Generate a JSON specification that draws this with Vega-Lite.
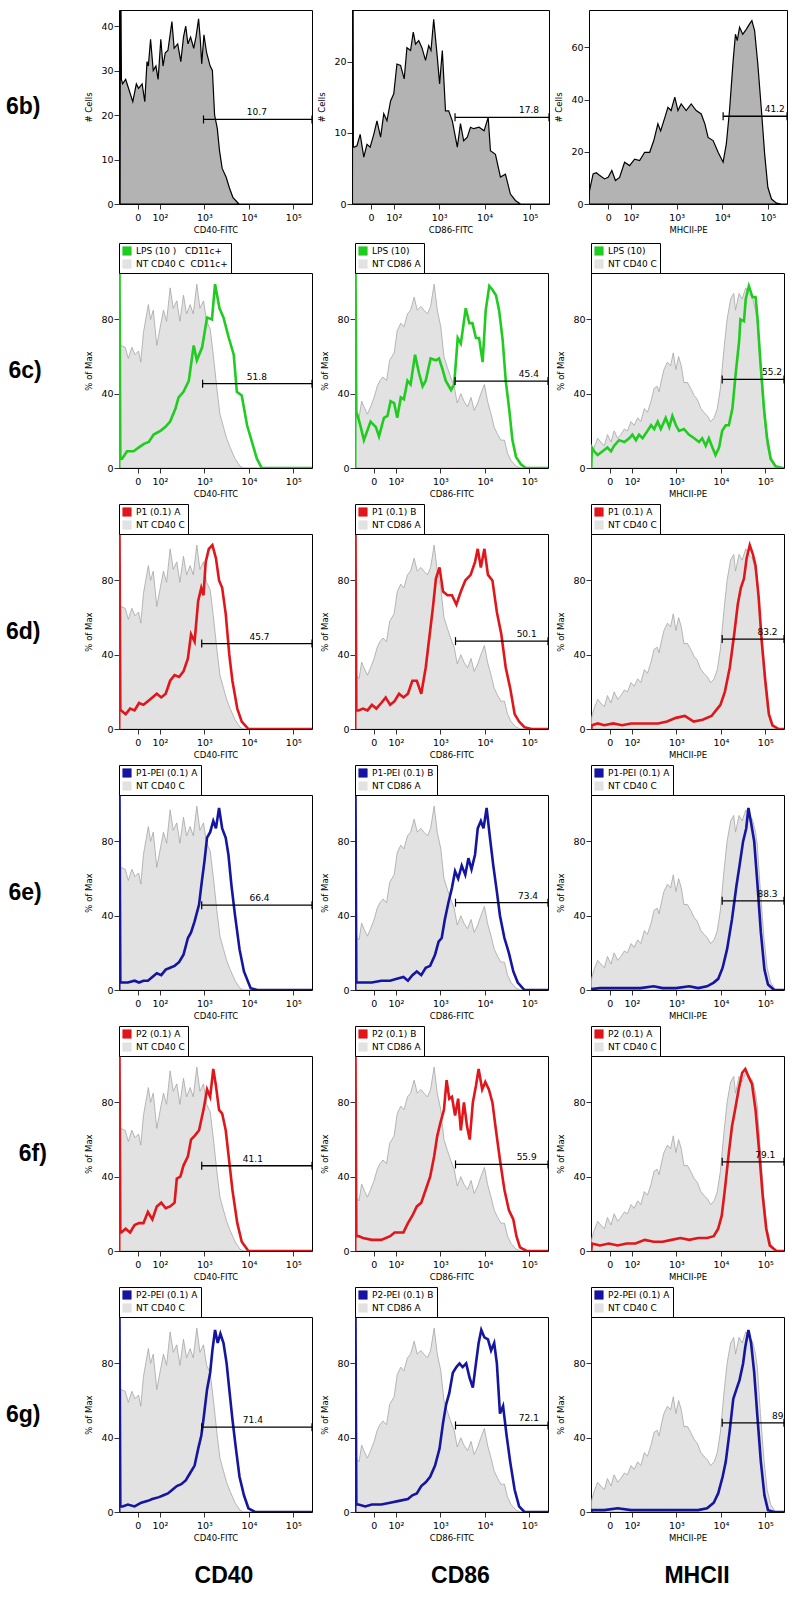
{
"$schema":"https://vega.github.io/schema/vega-lite/v6.json",
"padding":{"left":5,"top":9,"right":2,"bottom":0},
"background":"white",
"config":{
 "font":"DejaVu Sans",
 "view":{"stroke":"black","strokeWidth":1},
 "axis":{"domain":false,"grid":false,"tickColor":"black","tickWidth":0.8,"tickSize":5,"labelFont":"DejaVu Sans","labelFontSize":9.5,"labelColor":"black","labelPadding":3,"labelFlush":false,"labelOverlap":false,"titleFont":"DejaVu Sans","titleFontSize":8.5,"titleFontWeight":"normal","titleColor":"black","titlePadding":4},
 "axisY":{"titlePadding":7,"labelPadding":1,"labelOverlap":false},
 "legend":{"orient":"top","direction":"vertical","offset":0,"padding":3,"strokeColor":"black","fillColor":"white","symbolSize":72,"symbolStrokeColor":"black","symbolStrokeWidth":0.6,"symbolOpacity":1,"labelFont":"DejaVu Sans","labelFontSize":9,"labelColor":"black","rowPadding":1,"labelLimit":300,"symbolType":"square"},
 "point":{"shape":"M0,-1L0,1","size":64,"filled":false,"color":"black","strokeWidth":1.2,"opacity":1},
 "rule":{"color":"black","strokeWidth":1.3},
 "text":{"fontSize":9,"font":"DejaVu Sans","dy":-7,"color":"black"}
},
"datasets":{
"g1":[{"u":1.09,"y":66},{"u":1.12,"y":66},{"u":1.22,"y":65},{"u":1.29,"y":59},{"u":1.37,"y":65},{"u":1.44,"y":61},{"u":1.52,"y":63},{"u":1.57,"y":57},{"u":1.63,"y":73},{"u":1.74,"y":88},{"u":1.79,"y":80},{"u":1.85,"y":85},{"u":1.93,"y":66},{"u":2.0,"y":75},{"u":2.08,"y":85},{"u":2.15,"y":79},{"u":2.23,"y":97},{"u":2.3,"y":86},{"u":2.38,"y":90},{"u":2.45,"y":79},{"u":2.53,"y":93},{"u":2.6,"y":83},{"u":2.68,"y":88},{"u":2.75,"y":83},{"u":2.83,"y":99},{"u":2.9,"y":86},{"u":2.98,"y":90},{"u":3.05,"y":79},{"u":3.13,"y":75},{"u":3.2,"y":61},{"u":3.28,"y":43},{"u":3.35,"y":29},{"u":3.43,"y":22},{"u":3.5,"y":16},{"u":3.58,"y":11},{"u":3.69,"y":5},{"u":3.8,"y":1},{"u":3.88,"y":0},{"u":5.42,"y":0}],
"g2":[{"u":1.09,"y":30},{"u":1.11,"y":29},{"u":1.17,"y":27},{"u":1.23,"y":36},{"u":1.28,"y":33},{"u":1.36,"y":29},{"u":1.43,"y":33},{"u":1.51,"y":38},{"u":1.58,"y":44},{"u":1.64,"y":47},{"u":1.71,"y":49},{"u":1.79,"y":47},{"u":1.86,"y":58},{"u":1.96,"y":62},{"u":2.03,"y":74},{"u":2.11,"y":78},{"u":2.18,"y":76},{"u":2.26,"y":83},{"u":2.33,"y":85},{"u":2.41,"y":92},{"u":2.48,"y":85},{"u":2.56,"y":87},{"u":2.63,"y":85},{"u":2.71,"y":83},{"u":2.78,"y":87},{"u":2.86,"y":99},{"u":2.93,"y":85},{"u":3.01,"y":76},{"u":3.08,"y":60},{"u":3.16,"y":54},{"u":3.23,"y":49},{"u":3.31,"y":44},{"u":3.38,"y":35},{"u":3.46,"y":40},{"u":3.53,"y":36},{"u":3.61,"y":33},{"u":3.69,"y":38},{"u":3.76,"y":31},{"u":3.84,"y":35},{"u":3.91,"y":40},{"u":3.99,"y":45},{"u":4.06,"y":36},{"u":4.14,"y":29},{"u":4.21,"y":22},{"u":4.29,"y":18},{"u":4.36,"y":15},{"u":4.44,"y":15},{"u":4.51,"y":8},{"u":4.59,"y":4},{"u":4.7,"y":1},{"u":4.81,"y":0},{"u":5.42,"y":0}],
"g3":[{"u":1.09,"y":5},{"u":1.1,"y":7},{"u":1.15,"y":11},{"u":1.23,"y":16},{"u":1.3,"y":14},{"u":1.38,"y":12},{"u":1.45,"y":18},{"u":1.53,"y":14},{"u":1.6,"y":20},{"u":1.68,"y":16},{"u":1.75,"y":18},{"u":1.83,"y":21},{"u":1.9,"y":20},{"u":1.98,"y":25},{"u":2.05,"y":23},{"u":2.13,"y":27},{"u":2.2,"y":25},{"u":2.28,"y":32},{"u":2.35,"y":30},{"u":2.43,"y":36},{"u":2.5,"y":43},{"u":2.57,"y":44},{"u":2.61,"y":41},{"u":2.67,"y":48},{"u":2.72,"y":53},{"u":2.8,"y":57},{"u":2.87,"y":55},{"u":2.93,"y":62},{"u":2.99,"y":53},{"u":3.05,"y":60},{"u":3.11,"y":55},{"u":3.17,"y":46},{"u":3.25,"y":46},{"u":3.32,"y":43},{"u":3.4,"y":39},{"u":3.47,"y":37},{"u":3.55,"y":32},{"u":3.62,"y":30},{"u":3.7,"y":28},{"u":3.77,"y":25},{"u":3.85,"y":27},{"u":3.92,"y":32},{"u":3.99,"y":43},{"u":4.07,"y":64},{"u":4.14,"y":80},{"u":4.22,"y":91},{"u":4.29,"y":94},{"u":4.33,"y":85},{"u":4.41,"y":94},{"u":4.48,"y":91},{"u":4.56,"y":97},{"u":4.63,"y":94},{"u":4.71,"y":92},{"u":4.78,"y":85},{"u":4.82,"y":78},{"u":4.89,"y":53},{"u":4.97,"y":28},{"u":5.04,"y":12},{"u":5.12,"y":4},{"u":5.23,"y":0},{"u":5.42,"y":0}],
"b1":[{"u":1.105,"y":0},{"u":1.11,"y":44},{"u":1.125,"y":44},{"u":1.135,"y":28},{"u":1.16,"y":27},{"u":1.23,"y":28},{"u":1.31,"y":25.5},{"u":1.39,"y":23},{"u":1.47,"y":27},{"u":1.52,"y":26},{"u":1.6,"y":27},{"u":1.66,"y":23},{"u":1.71,"y":32},{"u":1.74,"y":31},{"u":1.79,"y":37},{"u":1.85,"y":30},{"u":1.91,"y":31},{"u":1.96,"y":28},{"u":2.02,"y":37},{"u":2.07,"y":31},{"u":2.12,"y":34},{"u":2.18,"y":34.5},{"u":2.27,"y":41},{"u":2.32,"y":35},{"u":2.4,"y":36},{"u":2.47,"y":32},{"u":2.53,"y":37.5},{"u":2.58,"y":40},{"u":2.63,"y":36},{"u":2.69,"y":37.5},{"u":2.76,"y":35},{"u":2.81,"y":37.5},{"u":2.87,"y":41.6},{"u":2.91,"y":36.7},{"u":2.94,"y":31.5},{"u":2.99,"y":38},{"u":3.05,"y":34},{"u":3.13,"y":31},{"u":3.18,"y":30},{"u":3.23,"y":20},{"u":3.29,"y":17},{"u":3.34,"y":12},{"u":3.4,"y":8},{"u":3.49,"y":6},{"u":3.56,"y":3.7},{"u":3.64,"y":1.5},{"u":3.74,"y":0.4},{"u":3.78,"y":0},{"u":5.42,"y":0}],
"b2":[{"u":1.09,"y":0},{"u":1.095,"y":28},{"u":1.105,"y":28},{"u":1.11,"y":8},{"u":1.13,"y":8},{"u":1.19,"y":8.2},{"u":1.26,"y":9.8},{"u":1.34,"y":6.6},{"u":1.41,"y":8.4},{"u":1.48,"y":8},{"u":1.56,"y":9.8},{"u":1.63,"y":11.7},{"u":1.71,"y":9.4},{"u":1.78,"y":12.7},{"u":1.85,"y":11.7},{"u":1.93,"y":14.5},{"u":2.0,"y":15.5},{"u":2.07,"y":19.7},{"u":2.15,"y":19.5},{"u":2.23,"y":17.6},{"u":2.29,"y":22},{"u":2.37,"y":21.6},{"u":2.43,"y":24.2},{"u":2.48,"y":22.5},{"u":2.55,"y":23},{"u":2.62,"y":22},{"u":2.7,"y":20.2},{"u":2.77,"y":22.3},{"u":2.82,"y":21.6},{"u":2.88,"y":26},{"u":2.96,"y":20.6},{"u":3.01,"y":16.9},{"u":3.07,"y":21.6},{"u":3.14,"y":13.1},{"u":3.21,"y":13.1},{"u":3.29,"y":11.7},{"u":3.4,"y":8},{"u":3.47,"y":11.3},{"u":3.54,"y":8.9},{"u":3.62,"y":9.4},{"u":3.69,"y":10.8},{"u":3.76,"y":10.6},{"u":3.88,"y":10.8},{"u":3.99,"y":10.3},{"u":4.08,"y":12.2},{"u":4.13,"y":7.5},{"u":4.24,"y":7},{"u":4.35,"y":3.8},{"u":4.46,"y":4.2},{"u":4.57,"y":1.4},{"u":4.68,"y":0.5},{"u":4.79,"y":0},{"u":5.42,"y":0}],
"b3":[{"u":1.085,"y":0},{"u":1.09,"y":5},{"u":1.17,"y":11.5},{"u":1.24,"y":12},{"u":1.31,"y":11},{"u":1.42,"y":9.6},{"u":1.5,"y":10.2},{"u":1.58,"y":12.8},{"u":1.66,"y":9},{"u":1.75,"y":10.2},{"u":1.86,"y":16},{"u":1.97,"y":14.7},{"u":2.08,"y":17.2},{"u":2.19,"y":16.6},{"u":2.3,"y":19.8},{"u":2.41,"y":19.8},{"u":2.5,"y":24.3},{"u":2.59,"y":30.7},{"u":2.65,"y":28},{"u":2.74,"y":33},{"u":2.81,"y":37},{"u":2.88,"y":35.8},{"u":2.96,"y":40.9},{"u":3.03,"y":35.8},{"u":3.1,"y":38.3},{"u":3.21,"y":35.8},{"u":3.32,"y":38.3},{"u":3.43,"y":35.8},{"u":3.54,"y":34.5},{"u":3.62,"y":30.7},{"u":3.69,"y":25.5},{"u":3.8,"y":24.3},{"u":3.91,"y":19.8},{"u":4.02,"y":16},{"u":4.09,"y":23},{"u":4.16,"y":35.8},{"u":4.24,"y":55},{"u":4.29,"y":65},{"u":4.33,"y":62.6},{"u":4.38,"y":67.7},{"u":4.45,"y":65},{"u":4.53,"y":67},{"u":4.6,"y":69},{"u":4.65,"y":70.2},{"u":4.71,"y":66.4},{"u":4.78,"y":53.6},{"u":4.86,"y":35.8},{"u":4.93,"y":19.2},{"u":5.0,"y":6.4},{"u":5.08,"y":1.9},{"u":5.19,"y":0.3},{"u":5.3,"y":0},{"u":5.42,"y":0}],
"c1":[{"u":1.085,"y":0},{"u":1.09,"y":110},{"u":1.11,"y":5},{"u":1.15,"y":5},{"u":1.26,"y":9},{"u":1.41,"y":9},{"u":1.52,"y":11},{"u":1.64,"y":13},{"u":1.75,"y":14},{"u":1.86,"y":18},{"u":2.01,"y":20},{"u":2.12,"y":22},{"u":2.23,"y":25},{"u":2.35,"y":32},{"u":2.42,"y":38},{"u":2.53,"y":41},{"u":2.65,"y":47},{"u":2.76,"y":66},{"u":2.83,"y":58},{"u":2.95,"y":65},{"u":3.06,"y":81},{"u":3.17,"y":80},{"u":3.24,"y":99},{"u":3.34,"y":86},{"u":3.43,"y":81},{"u":3.55,"y":70},{"u":3.66,"y":61},{"u":3.73,"y":41},{"u":3.84,"y":39},{"u":3.96,"y":23},{"u":4.07,"y":14},{"u":4.18,"y":5},{"u":4.29,"y":0},{"u":5.42,"y":0}],
"c2":[{"u":1.085,"y":0},{"u":1.09,"y":110},{"u":1.11,"y":30},{"u":1.13,"y":29},{"u":1.21,"y":22},{"u":1.28,"y":15},{"u":1.43,"y":25},{"u":1.55,"y":22},{"u":1.62,"y":17},{"u":1.73,"y":27},{"u":1.81,"y":28},{"u":1.88,"y":36},{"u":1.96,"y":35},{"u":2.03,"y":27},{"u":2.11,"y":38},{"u":2.18,"y":37},{"u":2.26,"y":47},{"u":2.33,"y":45},{"u":2.43,"y":61},{"u":2.52,"y":51},{"u":2.6,"y":44},{"u":2.67,"y":47},{"u":2.78,"y":59},{"u":2.9,"y":58},{"u":2.97,"y":59},{"u":3.05,"y":53},{"u":3.12,"y":47},{"u":3.24,"y":42},{"u":3.31,"y":45},{"u":3.39,"y":70},{"u":3.46,"y":67},{"u":3.57,"y":86},{"u":3.65,"y":78},{"u":3.72,"y":78},{"u":3.8,"y":70},{"u":3.87,"y":70},{"u":3.95,"y":57},{"u":4.02,"y":85},{"u":4.1,"y":98},{"u":4.17,"y":96},{"u":4.25,"y":93},{"u":4.32,"y":85},{"u":4.4,"y":69},{"u":4.47,"y":47},{"u":4.55,"y":31},{"u":4.62,"y":15},{"u":4.7,"y":6},{"u":4.81,"y":2},{"u":4.92,"y":0},{"u":5.42,"y":0}],
"c3":[{"u":1.085,"y":0},{"u":1.1,"y":11},{"u":1.15,"y":9},{"u":1.23,"y":7},{"u":1.34,"y":9},{"u":1.45,"y":11},{"u":1.53,"y":9},{"u":1.6,"y":12},{"u":1.71,"y":15},{"u":1.83,"y":14},{"u":1.94,"y":16},{"u":2.01,"y":18},{"u":2.09,"y":15},{"u":2.16,"y":18},{"u":2.24,"y":16},{"u":2.35,"y":20},{"u":2.43,"y":23},{"u":2.5,"y":21},{"u":2.58,"y":25},{"u":2.65,"y":21},{"u":2.76,"y":27},{"u":2.84,"y":22},{"u":2.91,"y":28},{"u":2.99,"y":23},{"u":3.06,"y":20},{"u":3.17,"y":21},{"u":3.28,"y":18},{"u":3.4,"y":16},{"u":3.51,"y":14},{"u":3.58,"y":16},{"u":3.66,"y":12},{"u":3.73,"y":16},{"u":3.81,"y":11},{"u":3.88,"y":7},{"u":3.96,"y":11},{"u":4.03,"y":20},{"u":4.11,"y":23},{"u":4.18,"y":23},{"u":4.26,"y":32},{"u":4.33,"y":50},{"u":4.41,"y":68},{"u":4.44,"y":80},{"u":4.52,"y":79},{"u":4.56,"y":91},{"u":4.63,"y":98},{"u":4.71,"y":92},{"u":4.78,"y":92},{"u":4.82,"y":82},{"u":4.89,"y":57},{"u":4.97,"y":32},{"u":5.04,"y":16},{"u":5.12,"y":5},{"u":5.23,"y":1},{"u":5.38,"y":0},{"u":5.42,"y":0}],
"d1":[{"u":1.085,"y":0},{"u":1.09,"y":110},{"u":1.11,"y":10},{"u":1.13,"y":10},{"u":1.23,"y":8},{"u":1.33,"y":11},{"u":1.43,"y":10},{"u":1.53,"y":14},{"u":1.63,"y":13},{"u":1.73,"y":15},{"u":1.83,"y":17},{"u":1.93,"y":19},{"u":2.03,"y":17},{"u":2.13,"y":19},{"u":2.23,"y":26},{"u":2.33,"y":29},{"u":2.43,"y":28},{"u":2.53,"y":31},{"u":2.63,"y":38},{"u":2.7,"y":51},{"u":2.78,"y":47},{"u":2.86,"y":69},{"u":2.93,"y":76},{"u":2.98,"y":72},{"u":3.03,"y":90},{"u":3.1,"y":97},{"u":3.18,"y":99},{"u":3.26,"y":92},{"u":3.33,"y":80},{"u":3.4,"y":76},{"u":3.48,"y":62},{"u":3.56,"y":40},{"u":3.63,"y":26},{"u":3.74,"y":11},{"u":3.84,"y":4},{"u":3.99,"y":0},{"u":5.42,"y":0}],
"d2":[{"u":1.085,"y":0},{"u":1.09,"y":110},{"u":1.11,"y":10},{"u":1.16,"y":10},{"u":1.26,"y":11},{"u":1.36,"y":10},{"u":1.46,"y":13},{"u":1.56,"y":11},{"u":1.67,"y":14},{"u":1.77,"y":17},{"u":1.87,"y":13},{"u":1.97,"y":15},{"u":2.07,"y":19},{"u":2.17,"y":17},{"u":2.27,"y":19},{"u":2.37,"y":26},{"u":2.47,"y":26},{"u":2.57,"y":19},{"u":2.67,"y":33},{"u":2.75,"y":49},{"u":2.83,"y":65},{"u":2.9,"y":81},{"u":2.98,"y":87},{"u":3.06,"y":74},{"u":3.16,"y":72},{"u":3.26,"y":72},{"u":3.36,"y":67},{"u":3.46,"y":74},{"u":3.56,"y":80},{"u":3.68,"y":83},{"u":3.78,"y":90},{"u":3.84,"y":97},{"u":3.91,"y":87},{"u":3.99,"y":97},{"u":4.07,"y":83},{"u":4.17,"y":80},{"u":4.27,"y":63},{"u":4.37,"y":51},{"u":4.47,"y":33},{"u":4.57,"y":22},{"u":4.67,"y":8},{"u":4.77,"y":4},{"u":4.89,"y":1},{"u":5.05,"y":0},{"u":5.42,"y":0}],
"d3":[{"u":1.085,"y":0},{"u":1.1,"y":2},{"u":1.23,"y":3},{"u":1.38,"y":2},{"u":1.58,"y":3},{"u":1.78,"y":2},{"u":1.98,"y":3},{"u":2.19,"y":3},{"u":2.39,"y":3},{"u":2.59,"y":3},{"u":2.79,"y":4},{"u":2.99,"y":6},{"u":3.19,"y":7},{"u":3.39,"y":4},{"u":3.59,"y":5},{"u":3.79,"y":7},{"u":3.89,"y":10},{"u":3.99,"y":13},{"u":4.09,"y":20},{"u":4.2,"y":33},{"u":4.3,"y":51},{"u":4.38,"y":67},{"u":4.45,"y":76},{"u":4.52,"y":81},{"u":4.58,"y":92},{"u":4.65,"y":99},{"u":4.72,"y":94},{"u":4.78,"y":88},{"u":4.85,"y":71},{"u":4.92,"y":47},{"u":5.0,"y":26},{"u":5.08,"y":8},{"u":5.16,"y":2},{"u":5.3,"y":0},{"u":5.42,"y":0}],
"e1":[{"u":1.085,"y":0},{"u":1.09,"y":110},{"u":1.11,"y":4},{"u":1.16,"y":4},{"u":1.28,"y":4},{"u":1.43,"y":5},{"u":1.53,"y":4},{"u":1.63,"y":5},{"u":1.73,"y":5},{"u":1.83,"y":7},{"u":1.93,"y":9},{"u":2.03,"y":8},{"u":2.13,"y":11},{"u":2.23,"y":12},{"u":2.33,"y":13},{"u":2.43,"y":15},{"u":2.53,"y":19},{"u":2.63,"y":28},{"u":2.7,"y":31},{"u":2.78,"y":37},{"u":2.88,"y":46},{"u":2.94,"y":58},{"u":3.0,"y":69},{"u":3.06,"y":82},{"u":3.13,"y":85},{"u":3.2,"y":91},{"u":3.26,"y":87},{"u":3.33,"y":98},{"u":3.4,"y":87},{"u":3.48,"y":82},{"u":3.54,"y":73},{"u":3.61,"y":56},{"u":3.69,"y":40},{"u":3.79,"y":22},{"u":3.89,"y":10},{"u":4.04,"y":1},{"u":4.19,"y":0},{"u":5.42,"y":0}],
"e2":[{"u":1.085,"y":0},{"u":1.09,"y":110},{"u":1.11,"y":4},{"u":1.16,"y":4},{"u":1.31,"y":4},{"u":1.46,"y":4},{"u":1.67,"y":5},{"u":1.87,"y":5},{"u":2.02,"y":6},{"u":2.17,"y":7},{"u":2.27,"y":5},{"u":2.37,"y":8},{"u":2.47,"y":10},{"u":2.57,"y":8},{"u":2.67,"y":12},{"u":2.77,"y":13},{"u":2.88,"y":19},{"u":2.96,"y":26},{"u":3.03,"y":28},{"u":3.1,"y":38},{"u":3.18,"y":47},{"u":3.26,"y":55},{"u":3.33,"y":64},{"u":3.4,"y":60},{"u":3.48,"y":67},{"u":3.56,"y":62},{"u":3.63,"y":71},{"u":3.7,"y":65},{"u":3.78,"y":73},{"u":3.84,"y":87},{"u":3.91,"y":91},{"u":3.97,"y":87},{"u":4.04,"y":98},{"u":4.11,"y":83},{"u":4.19,"y":67},{"u":4.27,"y":53},{"u":4.34,"y":40},{"u":4.44,"y":28},{"u":4.54,"y":20},{"u":4.64,"y":10},{"u":4.74,"y":4},{"u":4.89,"y":0},{"u":5.42,"y":0}],
"e3":[{"u":1.085,"y":0},{"u":1.1,"y":0.5},{"u":1.28,"y":1},{"u":1.58,"y":1},{"u":1.88,"y":1},{"u":2.19,"y":1},{"u":2.49,"y":2},{"u":2.69,"y":1},{"u":2.99,"y":1},{"u":3.29,"y":2},{"u":3.49,"y":1},{"u":3.69,"y":2},{"u":3.84,"y":4},{"u":3.94,"y":6},{"u":4.04,"y":12},{"u":4.14,"y":22},{"u":4.25,"y":38},{"u":4.35,"y":56},{"u":4.42,"y":67},{"u":4.5,"y":80},{"u":4.57,"y":87},{"u":4.62,"y":98},{"u":4.68,"y":90},{"u":4.75,"y":80},{"u":4.82,"y":58},{"u":4.9,"y":31},{"u":4.98,"y":11},{"u":5.06,"y":3},{"u":5.2,"y":0},{"u":5.42,"y":0}],
"f1":[{"u":1.085,"y":0},{"u":1.09,"y":110},{"u":1.11,"y":10},{"u":1.13,"y":10},{"u":1.23,"y":12},{"u":1.33,"y":10},{"u":1.43,"y":14},{"u":1.53,"y":15},{"u":1.63,"y":15},{"u":1.73,"y":21},{"u":1.83,"y":17},{"u":1.93,"y":24},{"u":2.03,"y":26},{"u":2.13,"y":23},{"u":2.23,"y":24},{"u":2.33,"y":26},{"u":2.38,"y":39},{"u":2.46,"y":40},{"u":2.53,"y":46},{"u":2.63,"y":51},{"u":2.7,"y":60},{"u":2.78,"y":62},{"u":2.88,"y":65},{"u":2.98,"y":76},{"u":3.06,"y":87},{"u":3.13,"y":83},{"u":3.2,"y":98},{"u":3.26,"y":89},{"u":3.33,"y":76},{"u":3.4,"y":74},{"u":3.48,"y":65},{"u":3.56,"y":48},{"u":3.63,"y":33},{"u":3.74,"y":15},{"u":3.84,"y":5},{"u":3.99,"y":0},{"u":5.42,"y":0}],
"f2":[{"u":1.085,"y":0},{"u":1.09,"y":110},{"u":1.11,"y":8},{"u":1.16,"y":8},{"u":1.26,"y":7},{"u":1.46,"y":6},{"u":1.67,"y":6},{"u":1.87,"y":8},{"u":1.97,"y":10},{"u":2.17,"y":10},{"u":2.27,"y":15},{"u":2.37,"y":19},{"u":2.47,"y":24},{"u":2.57,"y":26},{"u":2.67,"y":33},{"u":2.77,"y":40},{"u":2.86,"y":51},{"u":2.93,"y":62},{"u":3.0,"y":69},{"u":3.08,"y":76},{"u":3.14,"y":92},{"u":3.2,"y":82},{"u":3.26,"y":83},{"u":3.33,"y":73},{"u":3.4,"y":82},{"u":3.46,"y":65},{"u":3.53,"y":80},{"u":3.6,"y":67},{"u":3.66,"y":60},{"u":3.73,"y":80},{"u":3.8,"y":89},{"u":3.86,"y":98},{"u":3.94,"y":87},{"u":4.01,"y":91},{"u":4.09,"y":87},{"u":4.17,"y":80},{"u":4.25,"y":65},{"u":4.34,"y":49},{"u":4.44,"y":33},{"u":4.54,"y":22},{"u":4.64,"y":17},{"u":4.71,"y":8},{"u":4.79,"y":2},{"u":4.94,"y":0},{"u":5.42,"y":0}],
"f3":[{"u":1.085,"y":0},{"u":1.1,"y":4},{"u":1.28,"y":3},{"u":1.48,"y":4},{"u":1.68,"y":3},{"u":1.88,"y":4},{"u":2.08,"y":4},{"u":2.29,"y":6},{"u":2.49,"y":5},{"u":2.69,"y":5},{"u":2.89,"y":6},{"u":3.09,"y":7},{"u":3.29,"y":6},{"u":3.49,"y":7},{"u":3.69,"y":7},{"u":3.84,"y":8},{"u":3.94,"y":12},{"u":4.02,"y":19},{"u":4.09,"y":33},{"u":4.18,"y":53},{"u":4.25,"y":67},{"u":4.32,"y":76},{"u":4.4,"y":87},{"u":4.48,"y":96},{"u":4.55,"y":98},{"u":4.62,"y":94},{"u":4.7,"y":90},{"u":4.78,"y":76},{"u":4.86,"y":54},{"u":4.94,"y":30},{"u":5.02,"y":12},{"u":5.1,"y":3},{"u":5.25,"y":0},{"u":5.42,"y":0}],
"h1":[{"u":1.085,"y":0},{"u":1.09,"y":110},{"u":1.11,"y":3},{"u":1.16,"y":3},{"u":1.28,"y":4},{"u":1.43,"y":3},{"u":1.58,"y":5},{"u":1.73,"y":6},{"u":1.83,"y":7},{"u":1.98,"y":8},{"u":2.08,"y":9},{"u":2.18,"y":10},{"u":2.28,"y":12},{"u":2.38,"y":14},{"u":2.48,"y":15},{"u":2.58,"y":17},{"u":2.68,"y":21},{"u":2.78,"y":25},{"u":2.86,"y":34},{"u":2.93,"y":41},{"u":2.98,"y":50},{"u":3.06,"y":66},{"u":3.13,"y":75},{"u":3.18,"y":87},{"u":3.24,"y":98},{"u":3.3,"y":91},{"u":3.36,"y":96},{"u":3.43,"y":91},{"u":3.5,"y":80},{"u":3.56,"y":66},{"u":3.63,"y":50},{"u":3.71,"y":34},{"u":3.79,"y":19},{"u":3.89,"y":9},{"u":3.99,"y":2},{"u":4.14,"y":0},{"u":5.42,"y":0}],
"h2":[{"u":1.085,"y":0},{"u":1.09,"y":110},{"u":1.11,"y":4},{"u":1.16,"y":4},{"u":1.31,"y":3},{"u":1.46,"y":4},{"u":1.67,"y":4},{"u":1.87,"y":5},{"u":2.07,"y":6},{"u":2.27,"y":7},{"u":2.37,"y":9},{"u":2.47,"y":10},{"u":2.57,"y":14},{"u":2.67,"y":16},{"u":2.77,"y":19},{"u":2.88,"y":25},{"u":2.98,"y":34},{"u":3.06,"y":48},{"u":3.13,"y":58},{"u":3.2,"y":64},{"u":3.28,"y":75},{"u":3.36,"y":78},{"u":3.43,"y":80},{"u":3.5,"y":78},{"u":3.58,"y":80},{"u":3.66,"y":72},{"u":3.73,"y":67},{"u":3.8,"y":80},{"u":3.86,"y":91},{"u":3.92,"y":98},{"u":3.99,"y":94},{"u":4.07,"y":93},{"u":4.14,"y":87},{"u":4.21,"y":91},{"u":4.27,"y":80},{"u":4.34,"y":53},{"u":4.41,"y":57},{"u":4.49,"y":41},{"u":4.57,"y":27},{"u":4.67,"y":12},{"u":4.77,"y":3},{"u":4.89,"y":0},{"u":5.42,"y":0}],
"h3":[{"u":1.085,"y":0},{"u":1.1,"y":1},{"u":1.38,"y":1},{"u":1.68,"y":2},{"u":1.98,"y":1},{"u":2.29,"y":1},{"u":2.59,"y":1},{"u":2.89,"y":1},{"u":3.19,"y":1},{"u":3.49,"y":1},{"u":3.69,"y":2},{"u":3.84,"y":5},{"u":3.94,"y":10},{"u":4.04,"y":19},{"u":4.11,"y":27},{"u":4.2,"y":44},{"u":4.28,"y":61},{"u":4.35,"y":66},{"u":4.42,"y":71},{"u":4.5,"y":80},{"u":4.55,"y":89},{"u":4.62,"y":98},{"u":4.68,"y":91},{"u":4.75,"y":75},{"u":4.82,"y":52},{"u":4.9,"y":27},{"u":4.98,"y":9},{"u":5.06,"y":1},{"u":5.2,"y":0},{"u":5.42,"y":0}]
},
"resolve":{"scale":{"color":"independent"},"legend":{"color":"independent"}},
"spacing":7,
"vconcat":[
{"hconcat":[
 {"width":193,"height":194,"title":{"text":"6b)","orient":"left","angle":0,"align":"right","baseline":"middle","anchor":"middle","frame":"group","offset":10,"fontSize":23,"fontWeight":"bold","font":"Liberation Sans","color":"black"},
  "layer":[
  {"data":{"name":"b1"},"mark":{"type":"area","fill":"#b3b3b3","stroke":"black","strokeWidth":1.2,"clip":true},"encoding":{"x":{"field":"u","type":"quantitative","scale":{"domain":[1.08,5.42],"nice":false,"zero":false},"axis":{"title":"CD40-FITC","labelOverlap":false,"values":[1.5,2,3,4,5],"labelExpr":"datum.value==1.5?'0':datum.value==2?'10²':datum.value==3?'10³':datum.value==4?'10⁴':'10⁵'"}},"y":{"field":"y","type":"quantitative","stack":null,"scale":{"domain":[0,43.6],"nice":false},"axis":{"title":"# Cells","labelOverlap":false,"values":[0,10,20,30,40]}}}},
  {"data":{"values":[{"a":2.98,"b":5.42,"m":4.18,"y":19,"t":"10.7"}]},"encoding":{"y":{"field":"y","type":"quantitative","axis":{"labelOverlap":false}}},"layer":[{"mark":"rule","encoding":{"x":{"field":"a","type":"quantitative"},"x2":{"field":"b"}}},{"mark":"point","encoding":{"x":{"field":"a","type":"quantitative"}}},{"mark":"point","encoding":{"x":{"field":"b","type":"quantitative"}}},{"mark":"text","encoding":{"x":{"field":"m","type":"quantitative"},"text":{"field":"t"}}}]}
 ]},
 {"width":197,"height":194,"layer":[
  {"data":{"name":"b2"},"mark":{"type":"area","fill":"#b3b3b3","stroke":"black","strokeWidth":1.2,"clip":true},"encoding":{"x":{"field":"u","type":"quantitative","scale":{"domain":[1.08,5.42],"nice":false,"zero":false},"axis":{"title":"CD86-FITC","labelOverlap":false,"values":[1.5,2,3,4,5],"labelExpr":"datum.value==1.5?'0':datum.value==2?'10²':datum.value==3?'10³':datum.value==4?'10⁴':'10⁵'"}},"y":{"field":"y","type":"quantitative","stack":null,"scale":{"domain":[0,27.3],"nice":false},"axis":{"title":"# Cells","labelOverlap":false,"values":[0,5,10,15,20,25]}}}},
  {"data":{"values":[{"a":3.35,"b":5.42,"m":4.98,"y":12.2,"t":"17.8"}]},"encoding":{"y":{"field":"y","type":"quantitative","axis":{"labelOverlap":false}}},"layer":[{"mark":"rule","encoding":{"x":{"field":"a","type":"quantitative"},"x2":{"field":"b"}}},{"mark":"point","encoding":{"x":{"field":"a","type":"quantitative"}}},{"mark":"point","encoding":{"x":{"field":"b","type":"quantitative"}}},{"mark":"text","encoding":{"x":{"field":"m","type":"quantitative"},"text":{"field":"t"}}}]}
 ]},
 {"width":198,"height":194,"layer":[
  {"data":{"name":"b3"},"mark":{"type":"area","fill":"#b3b3b3","stroke":"black","strokeWidth":1.2,"clip":true},"encoding":{"x":{"field":"u","type":"quantitative","scale":{"domain":[1.08,5.42],"nice":false,"zero":false},"axis":{"title":"MHCII-PE","labelOverlap":false,"values":[1.5,2,3,4,5],"labelExpr":"datum.value==1.5?'0':datum.value==2?'10²':datum.value==3?'10³':datum.value==4?'10⁴':'10⁵'"}},"y":{"field":"y","type":"quantitative","stack":null,"scale":{"domain":[0,74.3],"nice":false},"axis":{"title":"# Cells","labelOverlap":false,"values":[0,20,40,60]}}}},
  {"data":{"values":[{"a":4.02,"b":5.42,"m":5.15,"y":33.6,"t":"41.2"}]},"encoding":{"y":{"field":"y","type":"quantitative","axis":{"labelOverlap":false}}},"layer":[{"mark":"rule","encoding":{"x":{"field":"a","type":"quantitative"},"x2":{"field":"b"}}},{"mark":"point","encoding":{"x":{"field":"a","type":"quantitative"}}},{"mark":"point","encoding":{"x":{"field":"b","type":"quantitative"}}},{"mark":"text","encoding":{"x":{"field":"m","type":"quantitative"},"text":{"field":"t"}}}]}
 ]}
],"spacing":2,"resolve":{"scale":{"color":"independent"},"legend":{"color":"independent"}}},
{"spacing":4,"resolve":{"scale":{"color":"independent"},"legend":{"color":"independent"}},"vconcat":[
{"hconcat":[
 {"width":193,"height":195,"title":{"text":"6c)","orient":"left","angle":0,"align":"right","baseline":"middle","anchor":"middle","frame":"group","offset":10,"fontSize":23,"fontWeight":"bold","font":"Liberation Sans","color":"black"},"layer":[
  {"data":{"name":"g1"},"mark":{"type":"area","stroke":"#a6a6a6","strokeWidth":0.8,"clip":true},"encoding":{"x":{"field":"u","type":"quantitative","scale":{"domain":[1.08,5.42],"nice":false,"zero":false},"axis":{"title":"CD40-FITC","labelOverlap":false,"values":[1.5,2,3,4,5],"labelExpr":"datum.value==1.5?'0':datum.value==2?'10²':datum.value==3?'10³':datum.value==4?'10⁴':'10⁵'"}},"y":{"field":"y","type":"quantitative","stack":null,"scale":{"domain":[0,105],"nice":false},"axis":{"title":"% of Max","labelOverlap":false,"values":[0,20,40,60,80,100]}},"color":{"datum":"NT CD40 C\u00a0\u00a0CD11c+","scale":{"domain":["LPS (10 )\u00a0\u00a0\u00a0CD11c+","NT CD40 C\u00a0\u00a0CD11c+"],"range":["#1fcc1f","#e2e2e2"]},"legend":{"title":null,"symbolType":"square"}}}},
  {"data":{"name":"c1"},"mark":{"type":"line","strokeWidth":2.6,"clip":true},"encoding":{"x":{"field":"u","type":"quantitative"},"y":{"field":"y","type":"quantitative","axis":{"labelOverlap":false}},"color":{"datum":"LPS (10 )\u00a0\u00a0\u00a0CD11c+","legend":{"title":null,"symbolType":"square"}}}},
  {"data":{"values":[{"a":2.96,"b":5.42,"m":4.18,"y":45.4,"t":"51.8"}]},"encoding":{"y":{"field":"y","type":"quantitative","axis":{"labelOverlap":false}}},"layer":[{"mark":"rule","encoding":{"x":{"field":"a","type":"quantitative"},"x2":{"field":"b"}}},{"mark":"point","encoding":{"x":{"field":"a","type":"quantitative"}}},{"mark":"point","encoding":{"x":{"field":"b","type":"quantitative"}}},{"mark":"text","encoding":{"x":{"field":"m","type":"quantitative"},"text":{"field":"t"}}}]}
 ]},
 {"width":193,"height":195,"layer":[
  {"data":{"name":"g2"},"mark":{"type":"area","stroke":"#a6a6a6","strokeWidth":0.8,"clip":true},"encoding":{"x":{"field":"u","type":"quantitative","scale":{"domain":[1.08,5.42],"nice":false,"zero":false},"axis":{"title":"CD86-FITC","labelOverlap":false,"values":[1.5,2,3,4,5],"labelExpr":"datum.value==1.5?'0':datum.value==2?'10²':datum.value==3?'10³':datum.value==4?'10⁴':'10⁵'"}},"y":{"field":"y","type":"quantitative","stack":null,"scale":{"domain":[0,105],"nice":false},"axis":{"title":"% of Max","labelOverlap":false,"values":[0,20,40,60,80,100]}},"color":{"datum":"NT CD86 A","scale":{"domain":["LPS (10)","NT CD86 A"],"range":["#1fcc1f","#e2e2e2"]},"legend":{"title":null,"symbolType":"square"}}}},
  {"data":{"name":"c2"},"mark":{"type":"line","strokeWidth":2.6,"clip":true},"encoding":{"x":{"field":"u","type":"quantitative"},"y":{"field":"y","type":"quantitative","axis":{"labelOverlap":false}},"color":{"datum":"LPS (10)","legend":{"title":null,"symbolType":"square"}}}},
  {"data":{"values":[{"a":3.33,"b":5.42,"m":4.99,"y":46.8,"t":"45.4"}]},"encoding":{"y":{"field":"y","type":"quantitative","axis":{"labelOverlap":false}}},"layer":[{"mark":"rule","encoding":{"x":{"field":"a","type":"quantitative"},"x2":{"field":"b"}}},{"mark":"point","encoding":{"x":{"field":"a","type":"quantitative"}}},{"mark":"point","encoding":{"x":{"field":"b","type":"quantitative"}}},{"mark":"text","encoding":{"x":{"field":"m","type":"quantitative"},"text":{"field":"t"}}}]}
 ]},
 {"width":193,"height":195,"layer":[
  {"data":{"name":"g3"},"mark":{"type":"area","stroke":"#a6a6a6","strokeWidth":0.8,"clip":true},"encoding":{"x":{"field":"u","type":"quantitative","scale":{"domain":[1.08,5.42],"nice":false,"zero":false},"axis":{"title":"MHCII-PE","labelOverlap":false,"values":[1.5,2,3,4,5],"labelExpr":"datum.value==1.5?'0':datum.value==2?'10²':datum.value==3?'10³':datum.value==4?'10⁴':'10⁵'"}},"y":{"field":"y","type":"quantitative","stack":null,"scale":{"domain":[0,105],"nice":false},"axis":{"title":"% of Max","labelOverlap":false,"values":[0,20,40,60,80,100]}},"color":{"datum":"NT CD40 C","scale":{"domain":["LPS (10)","NT CD40 C"],"range":["#1fcc1f","#e2e2e2"]},"legend":{"title":null,"symbolType":"square"}}}},
  {"data":{"name":"c3"},"mark":{"type":"line","strokeWidth":2.6,"clip":true},"encoding":{"x":{"field":"u","type":"quantitative"},"y":{"field":"y","type":"quantitative","axis":{"labelOverlap":false}},"color":{"datum":"LPS (10)","legend":{"title":null,"symbolType":"square"}}}},
  {"data":{"values":[{"a":4.03,"b":5.42,"m":5.15,"y":47.7,"t":"55.2"}]},"encoding":{"y":{"field":"y","type":"quantitative","axis":{"labelOverlap":false}}},"layer":[{"mark":"rule","encoding":{"x":{"field":"a","type":"quantitative"},"x2":{"field":"b"}}},{"mark":"point","encoding":{"x":{"field":"a","type":"quantitative"}}},{"mark":"point","encoding":{"x":{"field":"b","type":"quantitative"}}},{"mark":"text","encoding":{"x":{"field":"m","type":"quantitative"},"text":{"field":"t"}}}]}
 ]}
],"spacing":5,"resolve":{"scale":{"color":"independent"},"legend":{"color":"independent"}}},
{"hconcat":[
 {"width":193,"height":195,"title":{"text":"6d)","orient":"left","angle":0,"align":"right","baseline":"middle","anchor":"middle","frame":"group","offset":10,"fontSize":23,"fontWeight":"bold","font":"Liberation Sans","color":"black"},"layer":[
  {"data":{"name":"g1"},"mark":{"type":"area","stroke":"#a6a6a6","strokeWidth":0.8,"clip":true},"encoding":{"x":{"field":"u","type":"quantitative","scale":{"domain":[1.08,5.42],"nice":false,"zero":false},"axis":{"title":"CD40-FITC","labelOverlap":false,"values":[1.5,2,3,4,5],"labelExpr":"datum.value==1.5?'0':datum.value==2?'10²':datum.value==3?'10³':datum.value==4?'10⁴':'10⁵'"}},"y":{"field":"y","type":"quantitative","stack":null,"scale":{"domain":[0,105],"nice":false},"axis":{"title":"% of Max","labelOverlap":false,"values":[0,20,40,60,80,100]}},"color":{"datum":"NT CD40 C","scale":{"domain":["P1 (0.1) A","NT CD40 C"],"range":["#e0161b","#e2e2e2"]},"legend":{"title":null,"symbolType":"square"}}}},
  {"data":{"name":"d1"},"mark":{"type":"line","strokeWidth":2.6,"clip":true},"encoding":{"x":{"field":"u","type":"quantitative"},"y":{"field":"y","type":"quantitative","axis":{"labelOverlap":false}},"color":{"datum":"P1 (0.1) A","legend":{"title":null,"symbolType":"square"}}}},
  {"data":{"values":[{"a":2.94,"b":5.42,"m":4.24,"y":46,"t":"45.7"}]},"encoding":{"y":{"field":"y","type":"quantitative","axis":{"labelOverlap":false}}},"layer":[{"mark":"rule","encoding":{"x":{"field":"a","type":"quantitative"},"x2":{"field":"b"}}},{"mark":"point","encoding":{"x":{"field":"a","type":"quantitative"}}},{"mark":"point","encoding":{"x":{"field":"b","type":"quantitative"}}},{"mark":"text","encoding":{"x":{"field":"m","type":"quantitative"},"text":{"field":"t"}}}]}
 ]},
 {"width":193,"height":195,"layer":[
  {"data":{"name":"g2"},"mark":{"type":"area","stroke":"#a6a6a6","strokeWidth":0.8,"clip":true},"encoding":{"x":{"field":"u","type":"quantitative","scale":{"domain":[1.08,5.42],"nice":false,"zero":false},"axis":{"title":"CD86-FITC","labelOverlap":false,"values":[1.5,2,3,4,5],"labelExpr":"datum.value==1.5?'0':datum.value==2?'10²':datum.value==3?'10³':datum.value==4?'10⁴':'10⁵'"}},"y":{"field":"y","type":"quantitative","stack":null,"scale":{"domain":[0,105],"nice":false},"axis":{"title":"% of Max","labelOverlap":false,"values":[0,20,40,60,80,100]}},"color":{"datum":"NT CD86 A","scale":{"domain":["P1 (0.1) B","NT CD86 A"],"range":["#e0161b","#e2e2e2"]},"legend":{"title":null,"symbolType":"square"}}}},
  {"data":{"name":"d2"},"mark":{"type":"line","strokeWidth":2.6,"clip":true},"encoding":{"x":{"field":"u","type":"quantitative"},"y":{"field":"y","type":"quantitative","axis":{"labelOverlap":false}},"color":{"datum":"P1 (0.1) B","legend":{"title":null,"symbolType":"square"}}}},
  {"data":{"values":[{"a":3.34,"b":5.42,"m":4.94,"y":47.3,"t":"50.1"}]},"encoding":{"y":{"field":"y","type":"quantitative","axis":{"labelOverlap":false}}},"layer":[{"mark":"rule","encoding":{"x":{"field":"a","type":"quantitative"},"x2":{"field":"b"}}},{"mark":"point","encoding":{"x":{"field":"a","type":"quantitative"}}},{"mark":"point","encoding":{"x":{"field":"b","type":"quantitative"}}},{"mark":"text","encoding":{"x":{"field":"m","type":"quantitative"},"text":{"field":"t"}}}]}
 ]},
 {"width":193,"height":195,"layer":[
  {"data":{"name":"g3"},"mark":{"type":"area","stroke":"#a6a6a6","strokeWidth":0.8,"clip":true},"encoding":{"x":{"field":"u","type":"quantitative","scale":{"domain":[1.08,5.42],"nice":false,"zero":false},"axis":{"title":"MHCII-PE","labelOverlap":false,"values":[1.5,2,3,4,5],"labelExpr":"datum.value==1.5?'0':datum.value==2?'10²':datum.value==3?'10³':datum.value==4?'10⁴':'10⁵'"}},"y":{"field":"y","type":"quantitative","stack":null,"scale":{"domain":[0,105],"nice":false},"axis":{"title":"% of Max","labelOverlap":false,"values":[0,20,40,60,80,100]}},"color":{"datum":"NT CD40 C","scale":{"domain":["P1 (0.1) A","NT CD40 C"],"range":["#e0161b","#e2e2e2"]},"legend":{"title":null,"symbolType":"square"}}}},
  {"data":{"name":"d3"},"mark":{"type":"line","strokeWidth":2.6,"clip":true},"encoding":{"x":{"field":"u","type":"quantitative"},"y":{"field":"y","type":"quantitative","axis":{"labelOverlap":false}},"color":{"datum":"P1 (0.1) A","legend":{"title":null,"symbolType":"square"}}}},
  {"data":{"values":[{"a":4.03,"b":5.42,"m":5.05,"y":48.4,"t":"83.2"}]},"encoding":{"y":{"field":"y","type":"quantitative","axis":{"labelOverlap":false}}},"layer":[{"mark":"rule","encoding":{"x":{"field":"a","type":"quantitative"},"x2":{"field":"b"}}},{"mark":"point","encoding":{"x":{"field":"a","type":"quantitative"}}},{"mark":"point","encoding":{"x":{"field":"b","type":"quantitative"}}},{"mark":"text","encoding":{"x":{"field":"m","type":"quantitative"},"text":{"field":"t"}}}]}
 ]}
],"spacing":5,"resolve":{"scale":{"color":"independent"},"legend":{"color":"independent"}}},
{"hconcat":[
 {"width":193,"height":195,"title":{"text":"6e)","orient":"left","angle":0,"align":"right","baseline":"middle","anchor":"middle","frame":"group","offset":10,"fontSize":23,"fontWeight":"bold","font":"Liberation Sans","color":"black"},"layer":[
  {"data":{"name":"g1"},"mark":{"type":"area","stroke":"#a6a6a6","strokeWidth":0.8,"clip":true},"encoding":{"x":{"field":"u","type":"quantitative","scale":{"domain":[1.08,5.42],"nice":false,"zero":false},"axis":{"title":"CD40-FITC","labelOverlap":false,"values":[1.5,2,3,4,5],"labelExpr":"datum.value==1.5?'0':datum.value==2?'10²':datum.value==3?'10³':datum.value==4?'10⁴':'10⁵'"}},"y":{"field":"y","type":"quantitative","stack":null,"scale":{"domain":[0,105],"nice":false},"axis":{"title":"% of Max","labelOverlap":false,"values":[0,20,40,60,80,100]}},"color":{"datum":"NT CD40 C","scale":{"domain":["P1-PEI (0.1) A","NT CD40 C"],"range":["#1515a0","#e2e2e2"]},"legend":{"title":null,"symbolType":"square"}}}},
  {"data":{"name":"e1"},"mark":{"type":"line","strokeWidth":2.6,"clip":true},"encoding":{"x":{"field":"u","type":"quantitative"},"y":{"field":"y","type":"quantitative","axis":{"labelOverlap":false}},"color":{"datum":"P1-PEI (0.1) A","legend":{"title":null,"symbolType":"square"}}}},
  {"data":{"values":[{"a":2.94,"b":5.42,"m":4.24,"y":45.7,"t":"66.4"}]},"encoding":{"y":{"field":"y","type":"quantitative","axis":{"labelOverlap":false}}},"layer":[{"mark":"rule","encoding":{"x":{"field":"a","type":"quantitative"},"x2":{"field":"b"}}},{"mark":"point","encoding":{"x":{"field":"a","type":"quantitative"}}},{"mark":"point","encoding":{"x":{"field":"b","type":"quantitative"}}},{"mark":"text","encoding":{"x":{"field":"m","type":"quantitative"},"text":{"field":"t"}}}]}
 ]},
 {"width":193,"height":195,"layer":[
  {"data":{"name":"g2"},"mark":{"type":"area","stroke":"#a6a6a6","strokeWidth":0.8,"clip":true},"encoding":{"x":{"field":"u","type":"quantitative","scale":{"domain":[1.08,5.42],"nice":false,"zero":false},"axis":{"title":"CD86-FITC","labelOverlap":false,"values":[1.5,2,3,4,5],"labelExpr":"datum.value==1.5?'0':datum.value==2?'10²':datum.value==3?'10³':datum.value==4?'10⁴':'10⁵'"}},"y":{"field":"y","type":"quantitative","stack":null,"scale":{"domain":[0,105],"nice":false},"axis":{"title":"% of Max","labelOverlap":false,"values":[0,20,40,60,80,100]}},"color":{"datum":"NT CD86 A","scale":{"domain":["P1-PEI (0.1) B","NT CD86 A"],"range":["#1515a0","#e2e2e2"]},"legend":{"title":null,"symbolType":"square"}}}},
  {"data":{"name":"e2"},"mark":{"type":"line","strokeWidth":2.6,"clip":true},"encoding":{"x":{"field":"u","type":"quantitative"},"y":{"field":"y","type":"quantitative","axis":{"labelOverlap":false}},"color":{"datum":"P1-PEI (0.1) B","legend":{"title":null,"symbolType":"square"}}}},
  {"data":{"values":[{"a":3.34,"b":5.42,"m":4.97,"y":47,"t":"73.4"}]},"encoding":{"y":{"field":"y","type":"quantitative","axis":{"labelOverlap":false}}},"layer":[{"mark":"rule","encoding":{"x":{"field":"a","type":"quantitative"},"x2":{"field":"b"}}},{"mark":"point","encoding":{"x":{"field":"a","type":"quantitative"}}},{"mark":"point","encoding":{"x":{"field":"b","type":"quantitative"}}},{"mark":"text","encoding":{"x":{"field":"m","type":"quantitative"},"text":{"field":"t"}}}]}
 ]},
 {"width":193,"height":195,"layer":[
  {"data":{"name":"g3"},"mark":{"type":"area","stroke":"#a6a6a6","strokeWidth":0.8,"clip":true},"encoding":{"x":{"field":"u","type":"quantitative","scale":{"domain":[1.08,5.42],"nice":false,"zero":false},"axis":{"title":"MHCII-PE","labelOverlap":false,"values":[1.5,2,3,4,5],"labelExpr":"datum.value==1.5?'0':datum.value==2?'10²':datum.value==3?'10³':datum.value==4?'10⁴':'10⁵'"}},"y":{"field":"y","type":"quantitative","stack":null,"scale":{"domain":[0,105],"nice":false},"axis":{"title":"% of Max","labelOverlap":false,"values":[0,20,40,60,80,100]}},"color":{"datum":"NT CD40 C","scale":{"domain":["P1-PEI (0.1) A","NT CD40 C"],"range":["#1515a0","#e2e2e2"]},"legend":{"title":null,"symbolType":"square"}}}},
  {"data":{"name":"e3"},"mark":{"type":"line","strokeWidth":2.6,"clip":true},"encoding":{"x":{"field":"u","type":"quantitative"},"y":{"field":"y","type":"quantitative","axis":{"labelOverlap":false}},"color":{"datum":"P1-PEI (0.1) A","legend":{"title":null,"symbolType":"square"}}}},
  {"data":{"values":[{"a":4.03,"b":5.42,"m":5.05,"y":48,"t":"88.3"}]},"encoding":{"y":{"field":"y","type":"quantitative","axis":{"labelOverlap":false}}},"layer":[{"mark":"rule","encoding":{"x":{"field":"a","type":"quantitative"},"x2":{"field":"b"}}},{"mark":"point","encoding":{"x":{"field":"a","type":"quantitative"}}},{"mark":"point","encoding":{"x":{"field":"b","type":"quantitative"}}},{"mark":"text","encoding":{"x":{"field":"m","type":"quantitative"},"text":{"field":"t"}}}]}
 ]}
],"spacing":5,"resolve":{"scale":{"color":"independent"},"legend":{"color":"independent"}}},
{"hconcat":[
 {"width":193,"height":195,"title":{"text":"6f)","orient":"left","angle":0,"align":"right","baseline":"middle","anchor":"middle","frame":"group","offset":10,"fontSize":23,"fontWeight":"bold","font":"Liberation Sans","color":"black"},"layer":[
  {"data":{"name":"g1"},"mark":{"type":"area","stroke":"#a6a6a6","strokeWidth":0.8,"clip":true},"encoding":{"x":{"field":"u","type":"quantitative","scale":{"domain":[1.08,5.42],"nice":false,"zero":false},"axis":{"title":"CD40-FITC","labelOverlap":false,"values":[1.5,2,3,4,5],"labelExpr":"datum.value==1.5?'0':datum.value==2?'10²':datum.value==3?'10³':datum.value==4?'10⁴':'10⁵'"}},"y":{"field":"y","type":"quantitative","stack":null,"scale":{"domain":[0,105],"nice":false},"axis":{"title":"% of Max","labelOverlap":false,"values":[0,20,40,60,80,100]}},"color":{"datum":"NT CD40 C","scale":{"domain":["P2 (0.1) A","NT CD40 C"],"range":["#e0161b","#e2e2e2"]},"legend":{"title":null,"symbolType":"square"}}}},
  {"data":{"name":"f1"},"mark":{"type":"line","strokeWidth":2.6,"clip":true},"encoding":{"x":{"field":"u","type":"quantitative"},"y":{"field":"y","type":"quantitative","axis":{"labelOverlap":false}},"color":{"datum":"P2 (0.1) A","legend":{"title":null,"symbolType":"square"}}}},
  {"data":{"values":[{"a":2.94,"b":5.42,"m":4.09,"y":45.9,"t":"41.1"}]},"encoding":{"y":{"field":"y","type":"quantitative","axis":{"labelOverlap":false}}},"layer":[{"mark":"rule","encoding":{"x":{"field":"a","type":"quantitative"},"x2":{"field":"b"}}},{"mark":"point","encoding":{"x":{"field":"a","type":"quantitative"}}},{"mark":"point","encoding":{"x":{"field":"b","type":"quantitative"}}},{"mark":"text","encoding":{"x":{"field":"m","type":"quantitative"},"text":{"field":"t"}}}]}
 ]},
 {"width":193,"height":195,"layer":[
  {"data":{"name":"g2"},"mark":{"type":"area","stroke":"#a6a6a6","strokeWidth":0.8,"clip":true},"encoding":{"x":{"field":"u","type":"quantitative","scale":{"domain":[1.08,5.42],"nice":false,"zero":false},"axis":{"title":"CD86-FITC","labelOverlap":false,"values":[1.5,2,3,4,5],"labelExpr":"datum.value==1.5?'0':datum.value==2?'10²':datum.value==3?'10³':datum.value==4?'10⁴':'10⁵'"}},"y":{"field":"y","type":"quantitative","stack":null,"scale":{"domain":[0,105],"nice":false},"axis":{"title":"% of Max","labelOverlap":false,"values":[0,20,40,60,80,100]}},"color":{"datum":"NT CD86 A","scale":{"domain":["P2 (0.1) B","NT CD86 A"],"range":["#e0161b","#e2e2e2"]},"legend":{"title":null,"symbolType":"square"}}}},
  {"data":{"name":"f2"},"mark":{"type":"line","strokeWidth":2.6,"clip":true},"encoding":{"x":{"field":"u","type":"quantitative"},"y":{"field":"y","type":"quantitative","axis":{"labelOverlap":false}},"color":{"datum":"P2 (0.1) B","legend":{"title":null,"symbolType":"square"}}}},
  {"data":{"values":[{"a":3.34,"b":5.42,"m":4.94,"y":46.6,"t":"55.9"}]},"encoding":{"y":{"field":"y","type":"quantitative","axis":{"labelOverlap":false}}},"layer":[{"mark":"rule","encoding":{"x":{"field":"a","type":"quantitative"},"x2":{"field":"b"}}},{"mark":"point","encoding":{"x":{"field":"a","type":"quantitative"}}},{"mark":"point","encoding":{"x":{"field":"b","type":"quantitative"}}},{"mark":"text","encoding":{"x":{"field":"m","type":"quantitative"},"text":{"field":"t"}}}]}
 ]},
 {"width":193,"height":195,"layer":[
  {"data":{"name":"g3"},"mark":{"type":"area","stroke":"#a6a6a6","strokeWidth":0.8,"clip":true},"encoding":{"x":{"field":"u","type":"quantitative","scale":{"domain":[1.08,5.42],"nice":false,"zero":false},"axis":{"title":"MHCII-PE","labelOverlap":false,"values":[1.5,2,3,4,5],"labelExpr":"datum.value==1.5?'0':datum.value==2?'10²':datum.value==3?'10³':datum.value==4?'10⁴':'10⁵'"}},"y":{"field":"y","type":"quantitative","stack":null,"scale":{"domain":[0,105],"nice":false},"axis":{"title":"% of Max","labelOverlap":false,"values":[0,20,40,60,80,100]}},"color":{"datum":"NT CD40 C","scale":{"domain":["P2 (0.1) A","NT CD40 C"],"range":["#e0161b","#e2e2e2"]},"legend":{"title":null,"symbolType":"square"}}}},
  {"data":{"name":"f3"},"mark":{"type":"line","strokeWidth":2.6,"clip":true},"encoding":{"x":{"field":"u","type":"quantitative"},"y":{"field":"y","type":"quantitative","axis":{"labelOverlap":false}},"color":{"datum":"P2 (0.1) A","legend":{"title":null,"symbolType":"square"}}}},
  {"data":{"values":[{"a":4.03,"b":5.42,"m":5.0,"y":48,"t":"79.1"}]},"encoding":{"y":{"field":"y","type":"quantitative","axis":{"labelOverlap":false}}},"layer":[{"mark":"rule","encoding":{"x":{"field":"a","type":"quantitative"},"x2":{"field":"b"}}},{"mark":"point","encoding":{"x":{"field":"a","type":"quantitative"}}},{"mark":"point","encoding":{"x":{"field":"b","type":"quantitative"}}},{"mark":"text","encoding":{"x":{"field":"m","type":"quantitative"},"text":{"field":"t"}}}]}
 ]}
],"spacing":5,"resolve":{"scale":{"color":"independent"},"legend":{"color":"independent"}}},
{"hconcat":[
 {"width":193,"height":195,"title":{"text":"6g)","orient":"left","angle":0,"align":"right","baseline":"middle","anchor":"middle","frame":"group","offset":10,"fontSize":23,"fontWeight":"bold","font":"Liberation Sans","color":"black"},"layer":[
  {"data":{"name":"g1"},"mark":{"type":"area","stroke":"#a6a6a6","strokeWidth":0.8,"clip":true},"encoding":{"x":{"field":"u","type":"quantitative","scale":{"domain":[1.08,5.42],"nice":false,"zero":false},"axis":{"title":"CD40-FITC","labelOverlap":false,"values":[1.5,2,3,4,5],"labelExpr":"datum.value==1.5?'0':datum.value==2?'10²':datum.value==3?'10³':datum.value==4?'10⁴':'10⁵'"}},"y":{"field":"y","type":"quantitative","stack":null,"scale":{"domain":[0,105],"nice":false},"axis":{"title":"% of Max","labelOverlap":false,"values":[0,20,40,60,80,100]}},"color":{"datum":"NT CD40 C","scale":{"domain":["P2-PEI (0.1) A","NT CD40 C"],"range":["#1515a0","#e2e2e2"]},"legend":{"title":null,"symbolType":"square"}}}},
  {"data":{"name":"h1"},"mark":{"type":"line","strokeWidth":2.6,"clip":true},"encoding":{"x":{"field":"u","type":"quantitative"},"y":{"field":"y","type":"quantitative","axis":{"labelOverlap":false}},"color":{"datum":"P2-PEI (0.1) A","legend":{"title":null,"symbolType":"square"}}}},
  {"data":{"values":[{"a":2.94,"b":5.42,"m":4.09,"y":45.7,"t":"71.4"}]},"encoding":{"y":{"field":"y","type":"quantitative","axis":{"labelOverlap":false}}},"layer":[{"mark":"rule","encoding":{"x":{"field":"a","type":"quantitative"},"x2":{"field":"b"}}},{"mark":"point","encoding":{"x":{"field":"a","type":"quantitative"}}},{"mark":"point","encoding":{"x":{"field":"b","type":"quantitative"}}},{"mark":"text","encoding":{"x":{"field":"m","type":"quantitative"},"text":{"field":"t"}}}]}
 ]},
 {"width":193,"height":195,"layer":[
  {"data":{"name":"g2"},"mark":{"type":"area","stroke":"#a6a6a6","strokeWidth":0.8,"clip":true},"encoding":{"x":{"field":"u","type":"quantitative","scale":{"domain":[1.08,5.42],"nice":false,"zero":false},"axis":{"title":"CD86-FITC","labelOverlap":false,"values":[1.5,2,3,4,5],"labelExpr":"datum.value==1.5?'0':datum.value==2?'10²':datum.value==3?'10³':datum.value==4?'10⁴':'10⁵'"}},"y":{"field":"y","type":"quantitative","stack":null,"scale":{"domain":[0,105],"nice":false},"axis":{"title":"% of Max","labelOverlap":false,"values":[0,20,40,60,80,100]}},"color":{"datum":"NT CD86 A","scale":{"domain":["P2-PEI (0.1) B","NT CD86 A"],"range":["#1515a0","#e2e2e2"]},"legend":{"title":null,"symbolType":"square"}}}},
  {"data":{"name":"h2"},"mark":{"type":"line","strokeWidth":2.6,"clip":true},"encoding":{"x":{"field":"u","type":"quantitative"},"y":{"field":"y","type":"quantitative","axis":{"labelOverlap":false}},"color":{"datum":"P2-PEI (0.1) B","legend":{"title":null,"symbolType":"square"}}}},
  {"data":{"values":[{"a":3.34,"b":5.42,"m":4.99,"y":46.6,"t":"72.1"}]},"encoding":{"y":{"field":"y","type":"quantitative","axis":{"labelOverlap":false}}},"layer":[{"mark":"rule","encoding":{"x":{"field":"a","type":"quantitative"},"x2":{"field":"b"}}},{"mark":"point","encoding":{"x":{"field":"a","type":"quantitative"}}},{"mark":"point","encoding":{"x":{"field":"b","type":"quantitative"}}},{"mark":"text","encoding":{"x":{"field":"m","type":"quantitative"},"text":{"field":"t"}}}]}
 ]},
 {"width":193,"height":195,"layer":[
  {"data":{"name":"g3"},"mark":{"type":"area","stroke":"#a6a6a6","strokeWidth":0.8,"clip":true},"encoding":{"x":{"field":"u","type":"quantitative","scale":{"domain":[1.08,5.42],"nice":false,"zero":false},"axis":{"title":"MHCII-PE","labelOverlap":false,"values":[1.5,2,3,4,5],"labelExpr":"datum.value==1.5?'0':datum.value==2?'10²':datum.value==3?'10³':datum.value==4?'10⁴':'10⁵'"}},"y":{"field":"y","type":"quantitative","stack":null,"scale":{"domain":[0,105],"nice":false},"axis":{"title":"% of Max","labelOverlap":false,"values":[0,20,40,60,80,100]}},"color":{"datum":"NT CD40 C","scale":{"domain":["P2-PEI (0.1) A","NT CD40 C"],"range":["#1515a0","#e2e2e2"]},"legend":{"title":null,"symbolType":"square"}}}},
  {"data":{"name":"h3"},"mark":{"type":"line","strokeWidth":2.6,"clip":true},"encoding":{"x":{"field":"u","type":"quantitative"},"y":{"field":"y","type":"quantitative","axis":{"labelOverlap":false}},"color":{"datum":"P2-PEI (0.1) A","legend":{"title":null,"symbolType":"square"}}}},
  {"data":{"values":[{"a":4.03,"b":5.42,"m":5.28,"y":48,"t":"89"}]},"encoding":{"y":{"field":"y","type":"quantitative","axis":{"labelOverlap":false}}},"layer":[{"mark":"rule","encoding":{"x":{"field":"a","type":"quantitative"},"x2":{"field":"b"}}},{"mark":"point","encoding":{"x":{"field":"a","type":"quantitative"}}},{"mark":"point","encoding":{"x":{"field":"b","type":"quantitative"}}},{"mark":"text","encoding":{"x":{"field":"m","type":"quantitative"},"text":{"field":"t"}}}]}
 ]}
],"spacing":5,"resolve":{"scale":{"color":"independent"},"legend":{"color":"independent"}}},
{"width":670,"height":58,"view":{"stroke":null},"data":{"values":[{"c":1,"t":"CD40"},{"c":2,"t":"CD86"},{"c":3,"t":"MHCII"}]},"mark":{"type":"text","font":"Liberation Sans","fontSize":23,"fontWeight":"bold","dy":0,"color":"black"},"encoding":{"x":{"field":"c","type":"quantitative","scale":{"domain":[0.556,3.389],"nice":false,"zero":false},"axis":null},"text":{"field":"t"}}}
]}
]
}
